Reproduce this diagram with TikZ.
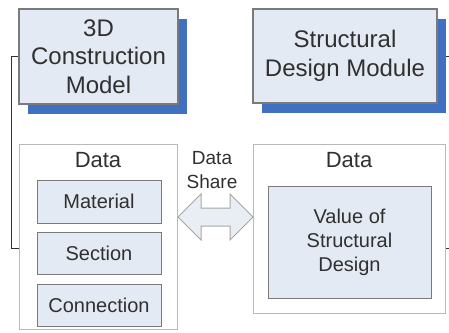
\documentclass[tikz,border=0pt]{standalone}
\usepackage{fontspec}
\setmainfont{Liberation Sans}
\usetikzlibrary{shapes.arrows,shadows,backgrounds}

\definecolor{boxfill}{HTML}{E4EAF3}
\definecolor{shadeblue}{HTML}{4270C0}
\definecolor{edgegray}{HTML}{7A7A7A}
\definecolor{textgray}{HTML}{303030}

\begin{document}
\begin{tikzpicture}[x=1pt, y=-1pt,
  every node/.style={text=textgray},
  module/.style={rectangle, draw=edgegray, line width=1.3pt, fill=boxfill, align=center,
    font=\fontsize{24}{28.5}\selectfont,
    drop shadow={shadow xshift=9pt, shadow yshift=-10pt, fill=shadeblue, opacity=1}},
  databox/.style={rectangle, draw=gray!55, line width=1pt, fill=white},
  item/.style={rectangle, draw=edgegray, line width=1pt, fill=boxfill, align=center,
    font=\fontsize{20}{24}\selectfont,
    drop shadow={shadow xshift=1.2pt, shadow yshift=-1.2pt, fill=gray!80, opacity=1}},
  title/.style={font=\fontsize{22}{26}\selectfont},
  link/.style={draw=black!80, line width=0.9pt},
]
\useasboundingbox (0,0) rectangle (449,332);

% === TOP MODULES ===
\node[module, minimum width=159pt, minimum height=95pt] (model)  at (98.5,56.5) {3D\\Construction\\Model};
\node[module, minimum width=184pt, minimum height=94pt] (design) at (345,56)    {Structural\\Design Module};

% === DATA BLOCKS ===
\node[databox, minimum width=158pt, minimum height=185pt] (ldata) at (98,236.5) {};
\node[databox, minimum width=192pt, minimum height=169pt] (rdata) at (349,228.5) {};
\node[title] (ltitle) at (98,160)  {Data};
\node[title] (rtitle) at (349,160) {Data};

\node[item, minimum width=124pt, minimum height=43pt] (material)   at (99,201.5) {Material};
\node[item, minimum width=124pt, minimum height=42pt] (section)    at (99,253)   {Section};
\node[item, minimum width=124pt, minimum height=42pt] (connection) at (99,305)   {Connection};
\node[item, minimum width=163pt, minimum height=112pt] (value)     at (349.5,242) {Value of\\Structural\\Design};

% === SHARING ===
\node[align=center, font=\fontsize{19}{24.5}\selectfont] (sharelabel) at (212,170) {Data\\Share};
\node[double arrow, draw=gray!70, fill=boxfill!80, line width=1pt,
      minimum height=75pt, inner xsep=0pt, inner ysep=8.5pt,
      double arrow head extend=14pt] (share) at (215.5,217) {};

% === CONNECTORS ===
\coordinate (lbend) at (11,248);
\coordinate (rtop)  at (449,56);
\coordinate (rbot)  at (449,248);
\begin{scope}[on background layer]
  \fill[white] (0,0) rectangle (449,332);
  \draw[link] (model.west) -| (lbend) -- (lbend -| ldata.west);
  \draw[link] (design.east) -- (rtop);
  \draw[link] (rdata.east |- rbot) -- (rbot);
\end{scope}
\end{tikzpicture}
\end{document}
